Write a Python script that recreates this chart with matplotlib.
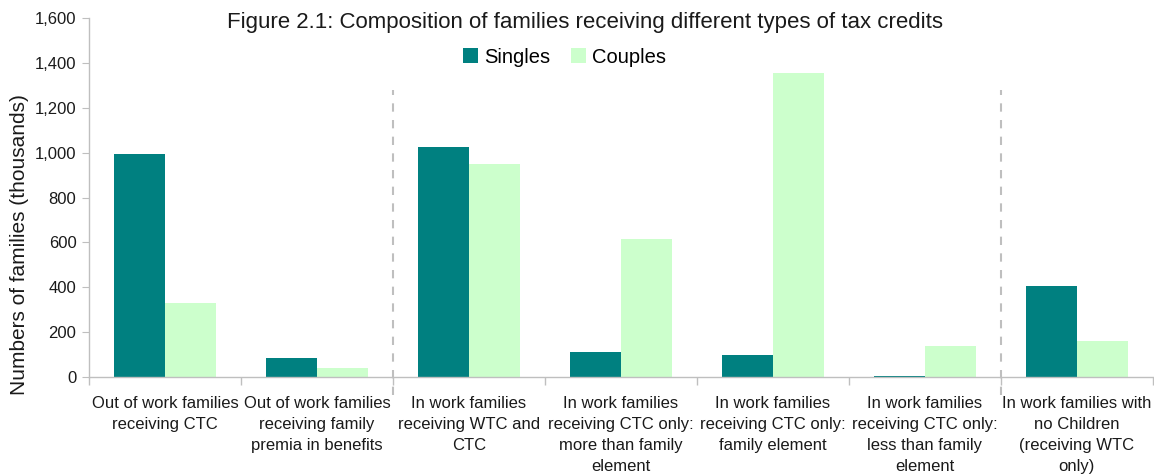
import matplotlib
matplotlib.use("Agg")
import matplotlib.pyplot as plt
import numpy as np
from matplotlib.ticker import FuncFormatter, FixedLocator

plt.rcParams['font.family'] = ['Liberation Sans', 'DejaVu Sans']

categories = [
    "Out of work families\nreceiving CTC",
    "Out of work families\nreceiving family\npremia in benefits",
    "In work families\nreceiving WTC and\nCTC",
    "In work families\nreceiving CTC only:\nmore than family\nelement",
    "In work families\nreceiving CTC only:\nfamily element",
    "In work families\nreceiving CTC only:\nless than family\nelement",
    "In work families with\nno Children\n(receiving WTC\nonly)",
]
singles = [994, 85, 1025, 111, 98, 4, 405]
couples = [330, 40, 949, 615, 1355, 138, 160]
yticks = [0, 200, 400, 600, 800, 1000, 1200, 1400, 1600]
separators_after = [1, 5]  # dashed lines after these category indices
separator_top = 1280

teal = "#008080"
light = "#ccffcc"
grey = "#bfbfbf"

fig = plt.figure(figsize=(11.54, 4.76), dpi=100)
ax = fig.add_axes([0.0771, 0.208, 0.9219, 0.754])

x = np.arange(len(categories))
w = 0.335
ax.bar(x - w/2, singles, w, color=teal, label="Singles")
ax.bar(x + w/2, couples, w, color=light, label="Couples")

ax.set_xlim(-0.5, len(categories) - 0.5)
ax.set_ylim(0, 1600)
ax.yaxis.set_major_locator(FixedLocator(yticks))
ax.yaxis.set_major_formatter(FuncFormatter(lambda v, p: f"{int(v):,}"))

ax.set_xticks(x)
ax.set_xticklabels(categories, fontsize=12, linespacing=1.5, color="#1a1a1a")
ax.tick_params(axis='x', which='major', length=0, pad=14)
ax.set_xticks(np.arange(-0.5, len(categories)), minor=True)
ax.tick_params(axis='x', which='minor', length=6, color=grey, width=1)
ax.tick_params(axis='y', length=5, color=grey, labelsize=12, labelcolor="#1a1a1a", pad=4)

for s in ['top', 'right']:
    ax.spines[s].set_visible(False)
for s in ['left', 'bottom']:
    ax.spines[s].set_color(grey)
    ax.spines[s].set_linewidth(1)

for i in separators_after:
    ax.plot([i + 0.5, i + 0.5], [-80, separator_top], linestyle=(0, (4, 4)),
            color=grey, lw=1.5, clip_on=False)

ax.set_ylabel("Numbers of families (thousands)", fontsize=15, color="#1a1a1a")
ax.yaxis.set_label_coords(-0.056, 0.37)

fig.text(0.507, 0.953, "Figure 2.1: Composition of families receiving different types of tax credits",
         ha='center', va='center', fontsize=16, color="#1a1a1a")
ax.legend(loc='center', bbox_to_anchor=(0.447, 0.891), ncol=2, frameon=False,
          fontsize=14.5, handlelength=0.75, handleheight=0.75, handletextpad=0.3,
          columnspacing=1.0)

fig.savefig("out.png", dpi=100)
